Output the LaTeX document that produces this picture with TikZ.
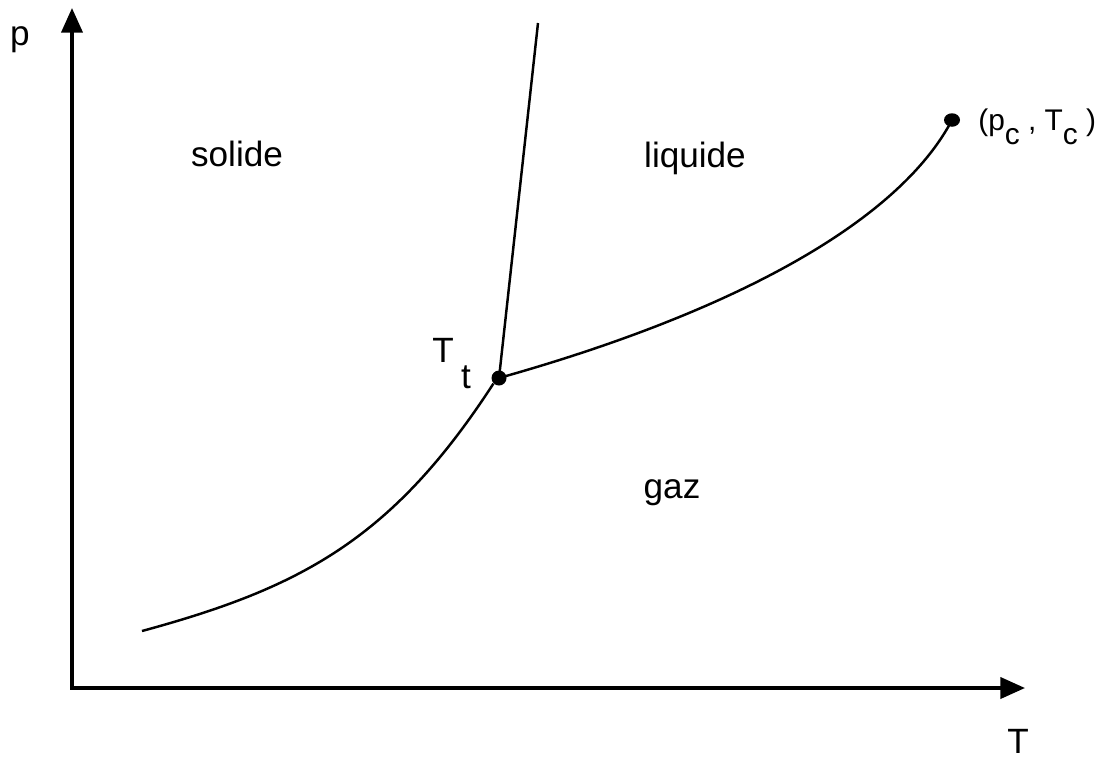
\documentclass[tikz,border=0pt]{standalone}
\usepackage{fontspec}
\setmainfont{Liberation Sans}
\usepackage{tikz}
\usetikzlibrary{arrows.meta,positioning,shapes.geometric}
\tikzset{
  lbl/.style={font=\fontsize{20}{24}\selectfont,inner sep=0pt,anchor=base},
  ax/.style={line width=2pt,{Triangle[length=14pt,width=12pt]}-{Triangle[length=14pt,width=12pt]}},
  crv/.style={line width=1.4pt},
  dot/.style={circle,fill=black,inner sep=0pt,minimum size=0.3cm},
}

\begin{document}
\begin{tikzpicture}[x=0.02cm,y=-0.02cm]
  \useasboundingbox (0,0) rectangle (1115,758);
  % axes
  \coordinate (O) at (72,688);
  \coordinate (ytip) at (72,8);
  \coordinate (xtip) at (1025,688);
  \draw[ax] (ytip) -- (O) -- (xtip);
  \node[lbl] (plbl) at (20,45) {p};
  \node[lbl] (Tlbl) at (1018,753) {T};
  % points
  \node[dot] (tp) at (499,378) {};
  \node[dot,ellipse,minimum width=0.32cm,minimum height=0.27cm] (cp) at (952,120) {};
  \coordinate (melt) at (538,23);
  \coordinate (subl) at (142,631);
  % phase lines
  \draw[crv] (tp.center) -- (melt);
  \draw[crv] (tp.center) .. controls (741,310) and (900,219) .. (cp.center);
  \draw[crv] (subl) .. controls (300,588) and (392,540) .. (tp.south west);
  % labels
  \node[lbl] (sol) at (237,166) {solide};
  \node[lbl] (liq) at (695,167) {liquide};
  \node[lbl] (gaz) at (672,498) {gaz};
  \node[lbl] (TtT) at (443,362) {T};
  \node[lbl] (Ttt) at (466,388) {t};
  \node[lbl,font=\fontsize{17}{20}\selectfont,anchor=base west] (crit) at (978,130)
    {(p\raisebox{-8pt}{c} , T\raisebox{-8pt}{c} )};
\end{tikzpicture}
\end{document}
